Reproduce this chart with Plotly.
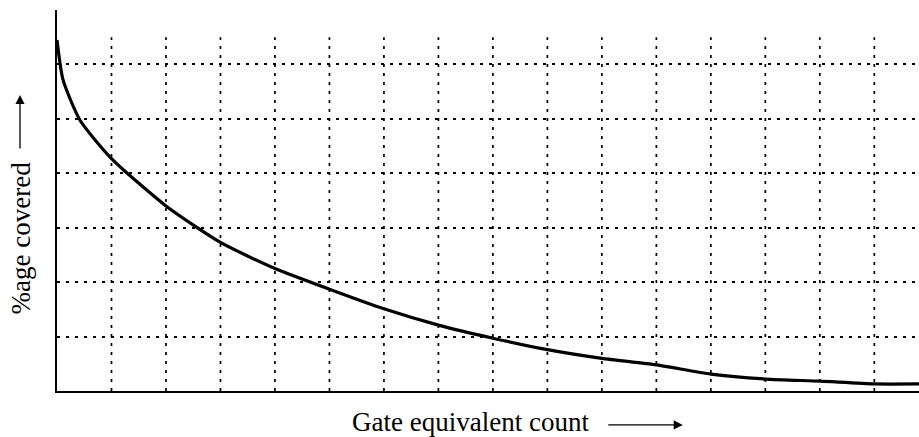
import plotly.graph_objects as go

# Curve data (grid units)
gate_count = [0, 0.11, 0.42, 1.0, 2.0, 3.0, 4.0, 5.0, 6.0, 7.0,
              8.0, 9.0, 10.0, 11.0, 12.0, 13.0, 14.0, 15.0, 15.82]
pct_covered = [6.45, 5.72, 4.98, 4.27, 3.40, 2.73, 2.25, 1.87, 1.51, 1.21,
               0.97, 0.76, 0.60, 0.48, 0.31, 0.22, 0.18, 0.13, 0.13]

x_grid = list(range(1, 16))
y_grid = list(range(1, 7))
x_range = [0, 15.82]
y_range = [0, 7]
v_grid_top = 6.5

x_title = "Gate equivalent count"
y_title = "%age covered"

fig = go.Figure()
fig.add_trace(go.Scatter(
    x=gate_count, y=pct_covered, mode="lines",
    line=dict(color="black", width=3.2, shape="spline", smoothing=0.6),
    showlegend=False, hoverinfo="skip"))

shapes = []
for gx in x_grid:
    shapes.append(dict(type="line", xref="x", yref="y", x0=gx, x1=gx, y0=0, y1=v_grid_top,
                       line=dict(color="black", width=1.7, dash="3px,6px"), layer="below"))

font = dict(family="Liberation Serif, Times New Roman, serif", size=27, color="black")

annotations = [
    dict(text=x_title, xref="paper", yref="paper", x=0.48, y=-0.081,
         xanchor="center", yanchor="middle", showarrow=False, font=font),
    dict(text="", xref="paper", yref="paper", x=0.726, y=-0.089, ax=-76, ay=0,
         showarrow=True, arrowhead=2, arrowsize=1.4, arrowwidth=1.3, arrowcolor="black"),
    dict(text=y_title, xref="paper", yref="paper", x=-0.0418, y=0.403, textangle=-90,
         xanchor="center", yanchor="middle", showarrow=False, font=font),
    dict(text="", xref="paper", yref="paper", x=-0.0429, y=0.777, ax=0, ay=55,
         showarrow=True, arrowhead=2, arrowsize=1.4, arrowwidth=1.3, arrowcolor="black"),
]

fig.update_layout(
    width=919, height=437,
    margin=dict(l=57, r=0, t=10, b=46),
    paper_bgcolor="white", plot_bgcolor="white",
    shapes=shapes, annotations=annotations,
    xaxis=dict(range=x_range, showgrid=False, zeroline=False, showticklabels=False,
               ticks="", showline=True, linecolor="black", linewidth=2),
    yaxis=dict(range=y_range, tickvals=y_grid, showgrid=True, gridcolor="black",
               gridwidth=1.7, griddash="3px,6px", zeroline=False, showticklabels=False,
               ticks="", showline=True, linecolor="black", linewidth=2),
)

fig.write_html("out.html", config={"displayModeBar": False},
               post_script="document.body.style.margin='0px';document.body.style.overflow='hidden';")
